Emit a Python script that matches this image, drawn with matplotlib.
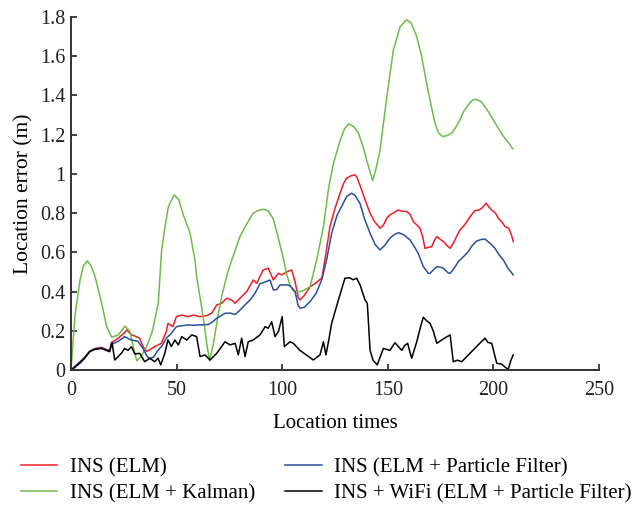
import matplotlib
matplotlib.use("Agg")
import matplotlib.pyplot as plt

plt.rcParams['font.family'] = ['Liberation Serif', 'DejaVu Serif']

# INS (ELM)
elm_x = [0, 2, 4.1, 6.5, 8.8, 11.2, 14.4, 16.7, 18.3, 19.1, 22.3, 25.4, 26.4, 28.6, 30.9,
         32.5, 34.1, 35.7, 37.5, 39.6, 42.8, 45.1, 45.9, 48.2, 49.9, 52.4, 55.6, 57.9, 61.1,
         64.2, 66.6, 69, 71.3, 73.7, 76.1, 77.7, 80, 83.2, 86.3, 87.9, 91, 93.4, 95.8, 98.2,
         99.8, 102.1, 104.5, 106.1, 107.6, 108.4, 110.5, 113.2, 115.5, 118.8, 120.5, 122.6,
         125, 127.4, 129, 130.5, 132.5, 134.5, 135.5, 137.6, 139.5, 141.6, 143.5, 146.3, 148,
         149.5, 151, 152.5, 154.9, 156.5, 158.9, 160.5, 162.1, 163.7, 165.2, 166.5, 167.6, 169,
         170.8, 172, 173.2, 175, 176.3, 178, 179.5, 181, 182.5, 184.2, 186, 187.4, 189.5, 191.3,
         193, 194.5, 196.5, 198, 199.2, 201, 202.3, 204, 205.5, 207.2, 208.5, 209.4]
elm_y = [0, 0.02, 0.04, 0.065, 0.095, 0.11, 0.115, 0.105, 0.10, 0.139, 0.162, 0.19, 0.204,
         0.18, 0.17, 0.162, 0.12, 0.095, 0.105, 0.119, 0.136, 0.196, 0.238, 0.221, 0.272, 0.28,
         0.272, 0.28, 0.272, 0.277, 0.289, 0.332, 0.34, 0.366, 0.357, 0.34, 0.366, 0.40, 0.459,
         0.442, 0.51, 0.519, 0.459, 0.493, 0.485, 0.50, 0.51, 0.45, 0.37, 0.357, 0.38, 0.425,
         0.44, 0.47, 0.58, 0.731, 0.825, 0.901, 0.95, 0.978, 0.99, 0.995, 0.98, 0.918, 0.86,
         0.80, 0.76, 0.723, 0.74, 0.774, 0.791, 0.80, 0.816, 0.81, 0.808, 0.795, 0.757, 0.74,
         0.723, 0.68, 0.62, 0.625, 0.629, 0.66, 0.68, 0.665, 0.655, 0.635, 0.62, 0.646, 0.68,
         0.714, 0.735, 0.757, 0.79, 0.813, 0.815, 0.825, 0.85, 0.83, 0.816, 0.80, 0.774, 0.755,
         0.731, 0.723, 0.69, 0.655]

# INS (ELM + Kalman)
kal_x = [0, 1.9, 4.3, 5.8, 7.7, 9.5, 11.4, 14.5, 16.9, 19.3, 22.4, 25.6, 27.9, 29.5, 31.1,
         33.1, 35.8, 38.5, 41.3, 42.1, 42.9, 44.5, 46.1, 48.8, 51, 53.2, 56.3, 58.7, 59.5, 62.6,
         64.2, 65.6, 67.5, 69.5, 71.3, 74, 76.1, 80, 82.4, 84.8, 86.3, 89, 91.4, 93.5, 95.8, 98,
         100.5, 102.1, 103.7, 105.5, 108.4, 110, 113.2, 116.3, 119.5, 122, 124.2, 127.4, 129.5,
         131.6, 134, 136, 138, 140, 142.8, 144.5, 146.3, 149.5, 152.6, 155.8, 158.9, 161, 163.7,
         166, 168.4, 170.5, 172.3, 174, 176, 178, 180.2, 182, 184.2, 186, 188.1, 190, 191.6, 194,
         196, 198, 200.8, 203, 205.5, 207.5, 209.1]
kal_y = [0, 0.28, 0.46, 0.53, 0.557, 0.53, 0.476, 0.34, 0.22, 0.167, 0.179, 0.224, 0.196,
         0.119, 0.047, 0.068, 0.119, 0.196, 0.34, 0.476, 0.61, 0.73, 0.833, 0.893, 0.87, 0.79,
         0.70, 0.56, 0.476, 0.27, 0.14, 0.047, 0.14, 0.27, 0.374, 0.49, 0.56, 0.68, 0.73, 0.774,
         0.80, 0.815, 0.82, 0.81, 0.77, 0.68, 0.57, 0.49, 0.43, 0.40, 0.40, 0.405, 0.425, 0.56,
         0.73, 0.93, 1.05, 1.17, 1.23, 1.255, 1.24, 1.21, 1.15, 1.07, 0.966, 1.03, 1.12, 1.39,
         1.63, 1.75, 1.786, 1.77, 1.70, 1.60, 1.46, 1.35, 1.26, 1.21, 1.19, 1.195, 1.207, 1.235,
         1.276, 1.32, 1.352, 1.375, 1.381, 1.37, 1.343, 1.31, 1.26, 1.22, 1.18, 1.155, 1.128]

# INS (ELM + Particle Filter)
pf_x = [0, 2, 4.1, 6.5, 8.8, 11.2, 14.4, 16.7, 18.3, 19.1, 22.3, 25.4, 28.6, 31.7, 34.1, 35.7,
        37, 39, 41.2, 43.5, 45.1, 47.5, 49.9, 52, 55.6, 58, 61.1, 65, 67, 69, 72.9, 75.5, 77.7,
        80, 82.4, 85, 87.1, 89.5, 91, 94.2, 95.8, 97.4, 99, 102.1, 103.7, 106.1, 107.5, 108.4,
        110.5, 113.2, 116, 118.7, 121, 123.4, 126, 128.9, 130.5, 132.9, 134.5, 136.8, 139, 141.6,
        144, 146.3, 148.5, 151, 153, 155, 157.5, 160.5, 162.5, 164.4, 166.8, 169.2, 170, 171.5,
        173.2, 175, 176.3, 178.6, 179.5, 181.5, 183.4, 186, 188.1, 190, 192.1, 194, 196, 198.5,
        200.8, 202.5, 204.7, 206.9, 208.3, 209.4]
pf_y = [0, 0.02, 0.04, 0.065, 0.095, 0.105, 0.112, 0.103, 0.098, 0.13, 0.146, 0.17, 0.153,
        0.146, 0.11, 0.075, 0.058, 0.065, 0.10, 0.13, 0.162, 0.187, 0.221, 0.225, 0.23, 0.228,
        0.23, 0.232, 0.245, 0.264, 0.289, 0.29, 0.283, 0.305, 0.332, 0.36, 0.391, 0.44, 0.445,
        0.459, 0.408, 0.41, 0.434, 0.434, 0.43, 0.40, 0.33, 0.315, 0.32, 0.349, 0.39, 0.459,
        0.56, 0.697, 0.79, 0.85, 0.885, 0.901, 0.89, 0.85, 0.77, 0.697, 0.64, 0.612, 0.635,
        0.672, 0.69, 0.70, 0.69, 0.663, 0.63, 0.595, 0.527, 0.493, 0.493, 0.51, 0.527, 0.524,
        0.519, 0.495, 0.493, 0.52, 0.553, 0.58, 0.604, 0.635, 0.658, 0.665, 0.668, 0.645, 0.62,
        0.59, 0.561, 0.519, 0.50, 0.485]

# INS + WiFi (ELM + Particle Filter)
wifi_x = [0, 2, 4.1, 6.5, 8.8, 11.2, 14.4, 16.7, 18.3, 19.4, 20.7, 22.3, 23.8, 25.4, 27, 28.6,
          30.2, 32.5, 34.9, 37.3, 39.6, 41.2, 42.5, 44.4, 45.9, 47.5, 49.2, 50.8, 52.4, 54.8,
          57.1, 59.5, 61.1, 63.4, 65.8, 69, 72.9, 75.3, 77.7, 79.2, 80.8, 82.4, 83.9, 86.3, 89.5,
          91.9, 93.4, 95, 96.6, 98.2, 100, 101, 103.7, 105.3, 108.4, 111, 114.7, 117.9, 119.5,
          120.7, 122, 123.4, 126.6, 129.7, 132, 133.5, 135.3, 137, 139.2, 140.3, 141.6, 143, 145,
          147.9, 151, 153.4, 156.6, 158, 159.4, 160.5, 161.3, 163.7, 165.5, 166.8, 168.5, 170,
          171.5, 173.2, 176.5, 179.5, 181, 183, 185, 188.9, 192.8, 196, 197.5, 199.2, 200.5,
          201.6, 203.9, 205.5, 207, 208.3, 209.4]
wifi_y = [0, 0.015, 0.034, 0.06, 0.093, 0.105, 0.11, 0.10, 0.093, 0.14, 0.051, 0.068, 0.085,
          0.11, 0.10, 0.119, 0.082, 0.085, 0.042, 0.06, 0.042, 0.06, 0.026, 0.085, 0.153, 0.12,
          0.153, 0.128, 0.17, 0.153, 0.179, 0.17, 0.068, 0.077, 0.051, 0.085, 0.144, 0.128, 0.136,
          0.077, 0.162, 0.068, 0.144, 0.153, 0.179, 0.221, 0.213, 0.246, 0.17, 0.196, 0.272,
          0.119, 0.144, 0.136, 0.10, 0.08, 0.051, 0.077, 0.144, 0.077, 0.15, 0.238, 0.357, 0.468,
          0.47, 0.46, 0.468, 0.43, 0.357, 0.34, 0.10, 0.05, 0.026, 0.11, 0.10, 0.139, 0.10, 0.125,
          0.136, 0.09, 0.06, 0.144, 0.22, 0.269, 0.25, 0.238, 0.20, 0.136, 0.16, 0.179, 0.042,
          0.05, 0.042, 0.085, 0.128, 0.162, 0.14, 0.136, 0.08, 0.034, 0.03, 0.015, 0.003, 0.05,
          0.077]

x_ticks = [0, 50, 100, 150, 200, 250]
y_ticks = [0, 0.2, 0.4, 0.6, 0.8, 1.0, 1.2, 1.4, 1.6, 1.8]
y_labels = ['0', '0.2', '0.4', '0.6', '0.8', '1', '1.2', '1.4', '1.6', '1.8']

fig = plt.figure(figsize=(6.33, 5.09), dpi=100)
ax = fig.add_axes([0.1122, 0.2731, 0.8341, 0.6935])

lw = 1.1
ax.plot(elm_x, elm_y, color='#ee1c25', lw=lw, label='INS (ELM)')
ax.plot(kal_x, kal_y, color='#6cbd45', lw=lw, label='INS (ELM + Kalman)')
ax.plot(pf_x, pf_y, color='#2b4ea2', lw=lw, label='INS (ELM + Particle Filter)')
ax.plot(wifi_x, wifi_y, color='#000000', lw=lw, label='INS + WiFi (ELM + Particle Filter)')

ax.set_xlim(0, 250)
ax.set_ylim(0, 1.8)
ax.set_xticks(x_ticks)
ax.set_yticks(y_ticks)
ax.set_yticklabels(y_labels)
ax.tick_params(direction='in', length=4, width=1.2, labelsize=14.5, colors='#222222')
ax.tick_params(axis='x', pad=8)
ax.tick_params(axis='y', pad=4)
for s in ['top', 'right']:
    ax.spines[s].set_visible(False)
for s in ['left', 'bottom']:
    ax.spines[s].set_linewidth(1.4)
    ax.spines[s].set_color('#333333')

ax.set_xlabel('Location times', fontsize=15, labelpad=10)
ax.set_ylabel('Location error (m)', fontsize=15.5, labelpad=5)

fig.legend(loc='upper left', bbox_to_anchor=(0.033, 0.101), ncol=2, frameon=False,
           fontsize=15, handlelength=1.75, handletextpad=0.6, columnspacing=1.45,
           labelspacing=0.33, borderaxespad=0, borderpad=0)

fig.savefig('out.png', dpi=100)
